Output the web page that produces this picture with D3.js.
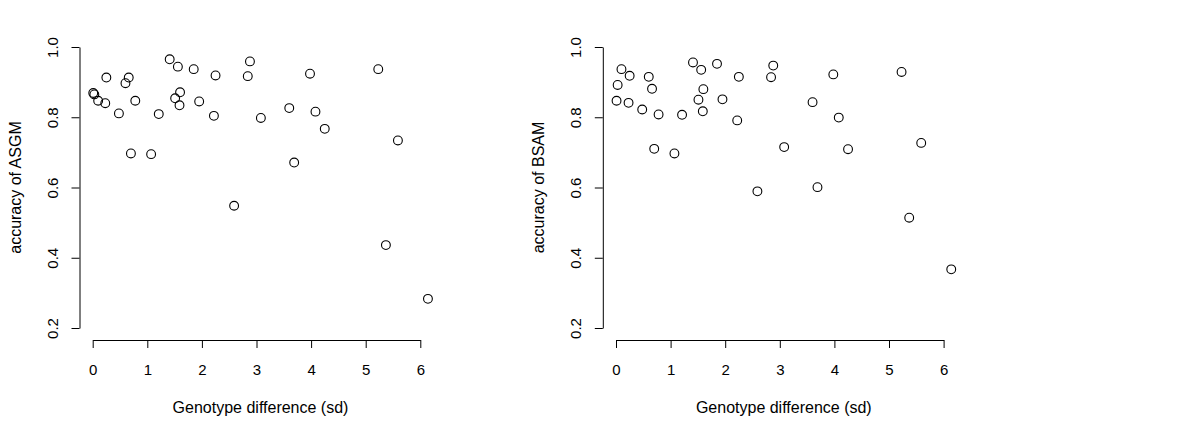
<!DOCTYPE html>
<html>
<head>
<meta charset="utf-8">
<script src="https://cdn.jsdelivr.net/npm/d3@7"></script>
<style>
  body { margin: 0; background: #fff; }
  text { font-family: "Liberation Sans", Arial, sans-serif; fill: #000; }
</style>
</head>
<body>
<div id="chart"></div>
<script>
// genotype difference vs accuracy, two panels (ASGM / BSAM)

const xDiff = [0.01, 0.03, 0.10, 0.23, 0.25, 0.48, 0.60, 0.66, 0.70, 0.78,
               1.07, 1.21, 1.41, 1.51, 1.56, 1.60, 1.59, 1.85, 1.95, 2.22,
               2.25, 2.59, 2.84, 2.88, 3.08, 3.60, 3.69, 3.98, 4.08, 4.25,
               5.23, 5.37, 5.59, 6.14];

const accASGM = [0.869, 0.865, 0.847, 0.840, 0.913, 0.811, 0.897, 0.913, 0.697, 0.847,
                 0.695, 0.809, 0.965, 0.854, 0.944, 0.871, 0.834, 0.937, 0.845, 0.804,
                 0.919, 0.548, 0.917, 0.959, 0.798, 0.826, 0.671, 0.924, 0.816, 0.767,
                 0.937, 0.436, 0.734, 0.283];

const accBSAM = [0.847, 0.892, 0.937, 0.841, 0.918, 0.822, 0.915, 0.881, 0.710, 0.808,
                 0.697, 0.807, 0.956, 0.850, 0.935, 0.880, 0.817, 0.952, 0.851, 0.791,
                 0.915, 0.589, 0.914, 0.947, 0.715, 0.843, 0.601, 0.922, 0.799, 0.709,
                 0.929, 0.514, 0.727, 0.367];

const xTicks = [0, 1, 2, 3, 4, 5, 6];
const yTicks = [0.2, 0.4, 0.6, 0.8, 1.0];
const xTitle = "Genotype difference (sd)";
const panels = [
  {label: "accuracy of ASGM", values: accASGM, offset: 0},
  {label: "accuracy of BSAM", values: accBSAM, offset: 523.3}
];

const width = 1200, height = 438;

const svg = d3.select("#chart")
    .append("svg")
    .attr("width", width)
    .attr("height", height)
    .attr("viewBox", [0, 0, width, height]);

let x = d3.scaleLinear()
    .domain([0, 6])
    .range([92.7, 420.3]);

let y = d3.scaleLinear()
    .domain([0.2, 1.0])
    .range([328, 47]);

for (let p of panels) {
    const g = svg.append("g")
        .attr("transform", `translate(${p.offset},0)`);

    // x axis (R style, drawn below the points)
    g.append("g")
        .attr("transform", "translate(0,340)")
        .call(d3.axisBottom(x).tickValues(xTicks).tickFormat(d3.format("d"))
            .tickSize(8).tickSizeOuter(0).tickPadding(8))
        .call(ax => ax.selectAll("text").attr("dy", 0).attr("y", 34.5))
        .attr("font-size", 15);

    // y axis with rotated labels
    g.append("g")
        .attr("transform", "translate(79.5,0)")
        .call(d3.axisLeft(y).tickValues(yTicks).tickFormat(d3.format(".1f"))
            .tickSize(8).tickSizeOuter(0))
        .call(ax => ax.selectAll("text")
            .attr("x", 0).attr("dy", 0).attr("y", -22)
            .attr("text-anchor", "middle")
            .attr("transform", "rotate(-90)"))
        .attr("font-size", 15);

    g.selectAll(".domain, .tick line").attr("stroke", "#000");

    // axis titles
    g.append("text")
        .attr("x", 260.5)
        .attr("y", 413)
        .attr("text-anchor", "middle")
        .attr("font-size", 16)
        .text(xTitle);

    g.append("text")
        .attr("transform", "translate(21,187.5) rotate(-90)")
        .attr("text-anchor", "middle")
        .attr("font-size", 16)
        .text(p.label);

    // points
    g.selectAll(".pt")
        .data(p.values)
        .join("circle")
        .attr("class", "pt")
        .attr("cx", (d, i) => x(xDiff[i]))
        .attr("cy", d => y(d))
        .attr("r", 4.4)
        .attr("fill", "none")
        .attr("stroke", "#000")
        .attr("stroke-width", 1.1);
}
</script>
</body>
</html>
